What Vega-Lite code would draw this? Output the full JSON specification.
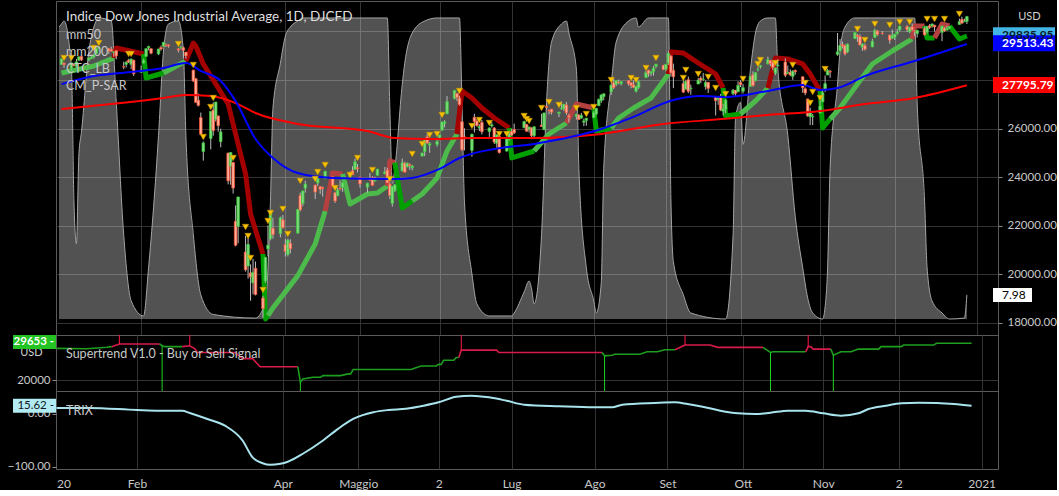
{
"$schema": "https://vega.github.io/schema/vega-lite/v6.json",
"background": "#000000",
"padding": {"left": 5, "right": 0, "top": 0, "bottom": 0},
"spacing": 0,
"bounds": "flush",
"config": {
 "font": "Lato",
 "view": {"stroke": "#5a5a5a"},
 "axis": {"domain": false, "gridColor": "#333333", "labelColor": "#c8c8c8", "labelFont": "Lato", "tickColor": "#8a8a8a", "titleFont": "Lato"},
 "title": {"font": "Lato", "anchor": "start", "frame": "group", "fontWeight": "normal"}
},
"resolve": {"scale": {"color": "independent"}},
"datasets": {
 "candles": [
{"d":"2020-01-02","o":28638,"h":28872,"l":28627,"c":28868},
{"d":"2020-01-03","o":28690,"h":28717,"l":28501,"c":28634},
{"d":"2020-01-06","o":28466,"h":28708,"l":28418,"c":28703},
{"d":"2020-01-07","o":28639,"h":28686,"l":28565,"c":28583},
{"d":"2020-01-08","o":28556,"h":28866,"l":28502,"c":28745},
{"d":"2020-01-09","o":28817,"h":28958,"l":28778,"c":28956},
{"d":"2020-01-10","o":28968,"h":29009,"l":28784,"c":28824},
{"d":"2020-01-13","o":28826,"h":28908,"l":28767,"c":28907},
{"d":"2020-01-14","o":28874,"h":29018,"l":28873,"c":28940},
{"d":"2020-01-15","o":28943,"h":29088,"l":28880,"c":29030},
{"d":"2020-01-16","o":29090,"h":29300,"l":29065,"c":29297},
{"d":"2020-01-17","o":29314,"h":29374,"l":29256,"c":29348},
{"d":"2020-01-21","o":29288,"h":29321,"l":29076,"c":29196},
{"d":"2020-01-22","o":29263,"h":29373,"l":29167,"c":29186},
{"d":"2020-01-23","o":29130,"h":29193,"l":28954,"c":29160},
{"d":"2020-01-24","o":29202,"h":29226,"l":28847,"c":28990},
{"d":"2020-01-27","o":28542,"h":28749,"l":28443,"c":28535},
{"d":"2020-01-28","o":28644,"h":28781,"l":28513,"c":28723},
{"d":"2020-01-29","o":28812,"h":28875,"l":28700,"c":28734},
{"d":"2020-01-30","o":28640,"h":28890,"l":28449,"c":28860},
{"d":"2020-01-31","o":28813,"h":28836,"l":28169,"c":28256},
{"d":"2020-02-03","o":28319,"h":28592,"l":28300,"c":28400},
{"d":"2020-02-04","o":28696,"h":28873,"l":28680,"c":28808},
{"d":"2020-02-05","o":28971,"h":29292,"l":28950,"c":29291},
{"d":"2020-02-06","o":29327,"h":29409,"l":29220,"c":29380},
{"d":"2020-02-07","o":29286,"h":29300,"l":29057,"c":29103},
{"d":"2020-02-10","o":29074,"h":29278,"l":29027,"c":29277},
{"d":"2020-02-11","o":29341,"h":29416,"l":29203,"c":29276},
{"d":"2020-02-12","o":29380,"h":29568,"l":29370,"c":29551},
{"d":"2020-02-13","o":29435,"h":29510,"l":29356,"c":29423},
{"d":"2020-02-14","o":29443,"h":29459,"l":29326,"c":29398},
{"d":"2020-02-18","o":29279,"h":29315,"l":29132,"c":29232},
{"d":"2020-02-19","o":29326,"h":29407,"l":29264,"c":29348},
{"d":"2020-02-20","o":29326,"h":29370,"l":28913,"c":29220},
{"d":"2020-02-21","o":29143,"h":29160,"l":28877,"c":28992},
{"d":"2020-02-24","o":28403,"h":28420,"l":27921,"c":27961},
{"d":"2020-02-25","o":28052,"h":28085,"l":27058,"c":27081},
{"d":"2020-02-26","o":27165,"h":27443,"l":26910,"c":26957},
{"d":"2020-02-27","o":26455,"h":26659,"l":25746,"c":25766},
{"d":"2020-02-28","o":25052,"h":25470,"l":24681,"c":25409},
{"d":"2020-03-02","o":25591,"h":26708,"l":25142,"c":26703},
{"d":"2020-03-03","o":26762,"h":27083,"l":25706,"c":25917},
{"d":"2020-03-04","o":26383,"h":27102,"l":26286,"c":27091},
{"d":"2020-03-05","o":26519,"h":26540,"l":25870,"c":26121},
{"d":"2020-03-06","o":25457,"h":25994,"l":25226,"c":25865},
{"d":"2020-03-09","o":24992,"h":25010,"l":23706,"c":23851},
{"d":"2020-03-10","o":24453,"h":25020,"l":23690,"c":25018},
{"d":"2020-03-11","o":24604,"h":24620,"l":23328,"c":23553},
{"d":"2020-03-12","o":22184,"h":22837,"l":21154,"c":21200},
{"d":"2020-03-13","o":21973,"h":23190,"l":21285,"c":23186},
{"d":"2020-03-16","o":20918,"h":21588,"l":20116,"c":20189},
{"d":"2020-03-17","o":20345,"h":21506,"l":19827,"c":21237},
{"d":"2020-03-18","o":20058,"h":20412,"l":18917,"c":19899},
{"d":"2020-03-19","o":19651,"h":20637,"l":19178,"c":20087},
{"d":"2020-03-20","o":20253,"h":20531,"l":19135,"c":19174},
{"d":"2020-03-23","o":19028,"h":19121,"l":18214,"c":18592},
{"d":"2020-03-24","o":19723,"h":20710,"l":19650,"c":20705},
{"d":"2020-03-25","o":21050,"h":22020,"l":20739,"c":21201},
{"d":"2020-03-26","o":21468,"h":22596,"l":21402,"c":22552},
{"d":"2020-03-27","o":21898,"h":22327,"l":21469,"c":21637},
{"d":"2020-03-30","o":21678,"h":22378,"l":21523,"c":22328},
{"d":"2020-03-31","o":22243,"h":22444,"l":21890,"c":21917},
{"d":"2020-04-01","o":21228,"h":21452,"l":20735,"c":20944},
{"d":"2020-04-02","o":20819,"h":21477,"l":20736,"c":21413},
{"d":"2020-04-03","o":21285,"h":21447,"l":20863,"c":21053},
{"d":"2020-04-06","o":21694,"h":22684,"l":21690,"c":22680},
{"d":"2020-04-07","o":23250,"h":23361,"l":22592,"c":22654},
{"d":"2020-04-08","o":22914,"h":23445,"l":22806,"c":23434},
{"d":"2020-04-09","o":23541,"h":23856,"l":23361,"c":23720},
{"d":"2020-04-13","o":23672,"h":23690,"l":23097,"c":23390},
{"d":"2020-04-14","o":23758,"h":23971,"l":23635,"c":23950},
{"d":"2020-04-15","o":23608,"h":23620,"l":23302,"c":23505},
{"d":"2020-04-16","o":23569,"h":23616,"l":23198,"c":23538},
{"d":"2020-04-17","o":23938,"h":24265,"l":23930,"c":24242},
{"d":"2020-04-20","o":24013,"h":24030,"l":23602,"c":23650},
{"d":"2020-04-21","o":23358,"h":23398,"l":22942,"c":23019},
{"d":"2020-04-22","o":23236,"h":23576,"l":23220,"c":23475},
{"d":"2020-04-23","o":23531,"h":23879,"l":23457,"c":23516},
{"d":"2020-04-24","o":23581,"h":23784,"l":23396,"c":23775},
{"d":"2020-04-27","o":24010,"h":24236,"l":24003,"c":24134},
{"d":"2020-04-28","o":24264,"h":24448,"l":24093,"c":24101},
{"d":"2020-04-29","o":24315,"h":24764,"l":24310,"c":24634},
{"d":"2020-04-30","o":24386,"h":24541,"l":24196,"c":24346},
{"d":"2020-05-01","o":24000,"h":24020,"l":23575,"c":23724},
{"d":"2020-05-04","o":23588,"h":23770,"l":23361,"c":23750},
{"d":"2020-05-05","o":23921,"h":24171,"l":23844,"c":23883},
{"d":"2020-05-06","o":23989,"h":24042,"l":23660,"c":23664},
{"d":"2020-05-07","o":23838,"h":24023,"l":23830,"c":23875},
{"d":"2020-05-08","o":24074,"h":24340,"l":24073,"c":24331},
{"d":"2020-05-11","o":24143,"h":24420,"l":24120,"c":24222},
{"d":"2020-05-12","o":24292,"h":24390,"l":23757,"c":23765},
{"d":"2020-05-13","o":23710,"h":23781,"l":23095,"c":23248},
{"d":"2020-05-14","o":22917,"h":23634,"l":22790,"c":23625},
{"d":"2020-05-15","o":23446,"h":23721,"l":23386,"c":23685},
{"d":"2020-05-18","o":24252,"h":24765,"l":24240,"c":24597},
{"d":"2020-05-19","o":24577,"h":24634,"l":24206,"c":24207},
{"d":"2020-05-20","o":24421,"h":24609,"l":24410,"c":24576},
{"d":"2020-05-21","o":24519,"h":24568,"l":24299,"c":24474},
{"d":"2020-05-22","o":24385,"h":24503,"l":24280,"c":24465},
{"d":"2020-05-26","o":24869,"h":25018,"l":24848,"c":24995},
{"d":"2020-05-27","o":25051,"h":25550,"l":24867,"c":25548},
{"d":"2020-05-28","o":25658,"h":25763,"l":25376,"c":25401},
{"d":"2020-05-29","o":25316,"h":25446,"l":25002,"c":25383},
{"d":"2020-06-01","o":25342,"h":25562,"l":25250,"c":25475},
{"d":"2020-06-02","o":25573,"h":25748,"l":25520,"c":25742},
{"d":"2020-06-03","o":25934,"h":26290,"l":25920,"c":26270},
{"d":"2020-06-04","o":26200,"h":26348,"l":26051,"c":26282},
{"d":"2020-06-05","o":26607,"h":27338,"l":26594,"c":27111},
{"d":"2020-06-08","o":27232,"h":27580,"l":27200,"c":27572},
{"d":"2020-06-09","o":27447,"h":27460,"l":27130,"c":27273},
{"d":"2020-06-10","o":27251,"h":27355,"l":26940,"c":26990},
{"d":"2020-06-11","o":26282,"h":26300,"l":25082,"c":25128},
{"d":"2020-06-12","o":25659,"h":26013,"l":25100,"c":25606},
{"d":"2020-06-15","o":25103,"h":25798,"l":24843,"c":25763},
{"d":"2020-06-16","o":26465,"h":26611,"l":25843,"c":26290},
{"d":"2020-06-17","o":26315,"h":26393,"l":26082,"c":26120},
{"d":"2020-06-18","o":26023,"h":26181,"l":25897,"c":26080},
{"d":"2020-06-19","o":26256,"h":26352,"l":25761,"c":25871},
{"d":"2020-06-22","o":25879,"h":26051,"l":25660,"c":26025},
{"d":"2020-06-23","o":26106,"h":26266,"l":26040,"c":26156},
{"d":"2020-06-24","o":26020,"h":26064,"l":25369,"c":25445},
{"d":"2020-06-25","o":25394,"h":25750,"l":25212,"c":25746},
{"d":"2020-06-26","o":25678,"h":25690,"l":24971,"c":25016},
{"d":"2020-06-29","o":25075,"h":25600,"l":25049,"c":25596},
{"d":"2020-06-30","o":25560,"h":25905,"l":25500,"c":25813},
{"d":"2020-07-01","o":25880,"h":25993,"l":25696,"c":25735},
{"d":"2020-07-02","o":25963,"h":26205,"l":25778,"c":25827},
{"d":"2020-07-06","o":26034,"h":26319,"l":26020,"c":26287},
{"d":"2020-07-07","o":26167,"h":26196,"l":25884,"c":25890},
{"d":"2020-07-08","o":25967,"h":26074,"l":25840,"c":26067},
{"d":"2020-07-09","o":26031,"h":26050,"l":25564,"c":25706},
{"d":"2020-07-10","o":25706,"h":26083,"l":25585,"c":26075},
{"d":"2020-07-13","o":26144,"h":26607,"l":26074,"c":26086},
{"d":"2020-07-14","o":25962,"h":26655,"l":25925,"c":26643},
{"d":"2020-07-15","o":26917,"h":27027,"l":26782,"c":26870},
{"d":"2020-07-16","o":26751,"h":26793,"l":26586,"c":26735},
{"d":"2020-07-17","o":26796,"h":26811,"l":26581,"c":26672},
{"d":"2020-07-20","o":26624,"h":26690,"l":26475,"c":26681},
{"d":"2020-07-21","o":26812,"h":27123,"l":26766,"c":26840},
{"d":"2020-07-22","o":26806,"h":27013,"l":26721,"c":27005},
{"d":"2020-07-23","o":26972,"h":27100,"l":26561,"c":26652},
{"d":"2020-07-24","o":26529,"h":26598,"l":26256,"c":26470},
{"d":"2020-07-27","o":26503,"h":26620,"l":26372,"c":26585},
{"d":"2020-07-28","o":26563,"h":26580,"l":26361,"c":26379},
{"d":"2020-07-29","o":26429,"h":26645,"l":26420,"c":26540},
{"d":"2020-07-30","o":26262,"h":26408,"l":26104,"c":26314},
{"d":"2020-07-31","o":26336,"h":26432,"l":26118,"c":26428},
{"d":"2020-08-03","o":26449,"h":26720,"l":26440,"c":26664},
{"d":"2020-08-04","o":26595,"h":26848,"l":26546,"c":26828},
{"d":"2020-08-05","o":26941,"h":27237,"l":26930,"c":27202},
{"d":"2020-08-06","o":27149,"h":27404,"l":27058,"c":27387},
{"d":"2020-08-07","o":27316,"h":27440,"l":27165,"c":27433},
{"d":"2020-08-10","o":27509,"h":27795,"l":27382,"c":27791},
{"d":"2020-08-11","o":27895,"h":28068,"l":27623,"c":27687},
{"d":"2020-08-12","o":27821,"h":27985,"l":27752,"c":27977},
{"d":"2020-08-13","o":27922,"h":28014,"l":27827,"c":27897},
{"d":"2020-08-14","o":27845,"h":27942,"l":27775,"c":27931},
{"d":"2020-08-17","o":27971,"h":27994,"l":27767,"c":27845},
{"d":"2020-08-18","o":27887,"h":27891,"l":27658,"c":27779},
{"d":"2020-08-19","o":27799,"h":27974,"l":27666,"c":27693},
{"d":"2020-08-20","o":27535,"h":27761,"l":27486,"c":27740},
{"d":"2020-08-21","o":27686,"h":27977,"l":27631,"c":27930},
{"d":"2020-08-24","o":28100,"h":28364,"l":28093,"c":28308},
{"d":"2020-08-25","o":28402,"h":28420,"l":28135,"c":28249},
{"d":"2020-08-26","o":28272,"h":28380,"l":28158,"c":28332},
{"d":"2020-08-27","o":28342,"h":28574,"l":28176,"c":28493},
{"d":"2020-08-28","o":28560,"h":28659,"l":28486,"c":28654},
{"d":"2020-08-31","o":28606,"h":28620,"l":28405,"c":28430},
{"d":"2020-09-01","o":28439,"h":28659,"l":28358,"c":28646},
{"d":"2020-09-02","o":28689,"h":29199,"l":28619,"c":29101},
{"d":"2020-09-03","o":28987,"h":29016,"l":28137,"c":28293},
{"d":"2020-09-04","o":28400,"h":28674,"l":27665,"c":28133},
{"d":"2020-09-08","o":27850,"h":27968,"l":27463,"c":27501},
{"d":"2020-09-09","o":27620,"h":28014,"l":27611,"c":27940},
{"d":"2020-09-10","o":28010,"h":28141,"l":27462,"c":27535},
{"d":"2020-09-11","o":27638,"h":27807,"l":27393,"c":27666},
{"d":"2020-09-14","o":27835,"h":28079,"l":27830,"c":27993},
{"d":"2020-09-15","o":28074,"h":28152,"l":27869,"c":27996},
{"d":"2020-09-16","o":28024,"h":28282,"l":27967,"c":28032},
{"d":"2020-09-17","o":27732,"h":27985,"l":27600,"c":27902},
{"d":"2020-09-18","o":27902,"h":27914,"l":27465,"c":27657},
{"d":"2020-09-21","o":27314,"h":27330,"l":26538,"c":27148},
{"d":"2020-09-22","o":27194,"h":27336,"l":26979,"c":27288},
{"d":"2020-09-23","o":27303,"h":27426,"l":26720,"c":26763},
{"d":"2020-09-24","o":26716,"h":27017,"l":26537,"c":26815},
{"d":"2020-09-25","o":26787,"h":27211,"l":26630,"c":27174},
{"d":"2020-09-28","o":27435,"h":27627,"l":27376,"c":27584},
{"d":"2020-09-29","o":27573,"h":27590,"l":27338,"c":27452},
{"d":"2020-09-30","o":27513,"h":27944,"l":27500,"c":27782},
{"d":"2020-10-01","o":27897,"h":27990,"l":27709,"c":27817},
{"d":"2020-10-02","o":27536,"h":27831,"l":27446,"c":27683},
{"d":"2020-10-05","o":27735,"h":28164,"l":27730,"c":28149},
{"d":"2020-10-06","o":28214,"h":28354,"l":27724,"c":27773},
{"d":"2020-10-07","o":27969,"h":28310,"l":27935,"c":28303},
{"d":"2020-10-08","o":28423,"h":28526,"l":28354,"c":28426},
{"d":"2020-10-09","o":28537,"h":28624,"l":28471,"c":28587},
{"d":"2020-10-12","o":28665,"h":28958,"l":28639,"c":28838},
{"d":"2020-10-13","o":28800,"h":28820,"l":28568,"c":28680},
{"d":"2020-10-14","o":28727,"h":28800,"l":28402,"c":28514},
{"d":"2020-10-15","o":28283,"h":28509,"l":28198,"c":28494},
{"d":"2020-10-16","o":28579,"h":28853,"l":28570,"c":28606},
{"d":"2020-10-19","o":28740,"h":28890,"l":28117,"c":28195},
{"d":"2020-10-20","o":28265,"h":28591,"l":28242,"c":28309},
{"d":"2020-10-21","o":28317,"h":28439,"l":28157,"c":28211},
{"d":"2020-10-22","o":28147,"h":28402,"l":28006,"c":28364},
{"d":"2020-10-23","o":28393,"h":28431,"l":28214,"c":28336},
{"d":"2020-10-26","o":28132,"h":28143,"l":27475,"c":27685},
{"d":"2020-10-27","o":27639,"h":27696,"l":27375,"c":27463},
{"d":"2020-10-28","o":27218,"h":27230,"l":26487,"c":26520},
{"d":"2020-10-29","o":26485,"h":26856,"l":26144,"c":26660},
{"d":"2020-10-30","o":26483,"h":26599,"l":26143,"c":26502},
{"d":"2020-11-02","o":26636,"h":27146,"l":26630,"c":26925},
{"d":"2020-11-03","o":27096,"h":27639,"l":27090,"c":27481},
{"d":"2020-11-04","o":27606,"h":28180,"l":27506,"c":27848},
{"d":"2020-11-05","o":28206,"h":28462,"l":28200,"c":28391},
{"d":"2020-11-06","o":28354,"h":28419,"l":28088,"c":28324},
{"d":"2020-11-09","o":29047,"h":29934,"l":28998,"c":29158},
{"d":"2020-11-10","o":29197,"h":29680,"l":29184,"c":29421},
{"d":"2020-11-11","o":29458,"h":29571,"l":29293,"c":29398},
{"d":"2020-11-12","o":29423,"h":29458,"l":29007,"c":29080},
{"d":"2020-11-13","o":29150,"h":29500,"l":29116,"c":29480},
{"d":"2020-11-16","o":29700,"h":29965,"l":29690,"c":29950},
{"d":"2020-11-17","o":29837,"h":29899,"l":29571,"c":29784},
{"d":"2020-11-18","o":29791,"h":29883,"l":29425,"c":29438},
{"d":"2020-11-19","o":29348,"h":29504,"l":29198,"c":29483},
{"d":"2020-11-20","o":29415,"h":29495,"l":29212,"c":29263},
{"d":"2020-11-23","o":29360,"h":29691,"l":29345,"c":29591},
{"d":"2020-11-24","o":29746,"h":30117,"l":29740,"c":30046},
{"d":"2020-11-25","o":30021,"h":30061,"l":29811,"c":29873},
{"d":"2020-11-27","o":29925,"h":30015,"l":29862,"c":29910},
{"d":"2020-11-30","o":29849,"h":29870,"l":29490,"c":29639},
{"d":"2020-12-01","o":29720,"h":30082,"l":29700,"c":29824},
{"d":"2020-12-02","o":29750,"h":29893,"l":29648,"c":29884},
{"d":"2020-12-03","o":29913,"h":30104,"l":29855,"c":29970},
{"d":"2020-12-04","o":30057,"h":30225,"l":29993,"c":30218},
{"d":"2020-12-07","o":30196,"h":30256,"l":29976,"c":30070},
{"d":"2020-12-08","o":29984,"h":30181,"l":29923,"c":30174},
{"d":"2020-12-09","o":30182,"h":30319,"l":30010,"c":30069},
{"d":"2020-12-10","o":30005,"h":30055,"l":29815,"c":29999},
{"d":"2020-12-11","o":29905,"h":30062,"l":29744,"c":30046},
{"d":"2020-12-14","o":30102,"h":30200,"l":29824,"c":29861},
{"d":"2020-12-15","o":29963,"h":30222,"l":29914,"c":30200},
{"d":"2020-12-16","o":30229,"h":30296,"l":30100,"c":30155},
{"d":"2020-12-17","o":30216,"h":30326,"l":30156,"c":30304},
{"d":"2020-12-18","o":30251,"h":30272,"l":29991,"c":30180},
{"d":"2020-12-21","o":29960,"h":30237,"l":29600,"c":30217},
{"d":"2020-12-22","o":30145,"h":30178,"l":29985,"c":30016},
{"d":"2020-12-23","o":30051,"h":30234,"l":30043,"c":30129},
{"d":"2020-12-24","o":30133,"h":30220,"l":30107,"c":30200},
{"d":"2020-12-28","o":30283,"h":30526,"l":30280,"c":30404},
{"d":"2020-12-29","o":30493,"h":30603,"l":30331,"c":30336},
{"d":"2020-12-30","o":30393,"h":30525,"l":30390,"c":30410},
{"d":"2020-12-31","o":30411,"h":30637,"l":30303,"c":30606}
 ],
 "osc": [
{"d":"2020-01-01","v":97},{"d":"2020-01-02","v":98},{"d":"2020-01-03","v":99},{"d":"2020-01-06","v":83},{"d":"2020-01-07","v":39},{"d":"2020-01-08","v":25},{"d":"2020-01-09","v":55},{"d":"2020-01-10","v":62},{"d":"2020-01-13","v":89},{"d":"2020-01-15","v":97},{"d":"2020-01-17","v":100},{"d":"2020-01-22","v":99},{"d":"2020-01-24","v":72},{"d":"2020-01-27","v":28},{"d":"2020-01-30","v":6},{"d":"2020-02-04","v":1},{"d":"2020-02-06","v":17},{"d":"2020-02-10","v":61},{"d":"2020-02-12","v":89},{"d":"2020-02-14","v":98},{"d":"2020-02-18","v":99},{"d":"2020-02-20","v":89},{"d":"2020-02-21","v":61},{"d":"2020-02-24","v":28},{"d":"2020-02-27","v":8},{"d":"2020-03-03","v":1.5},{"d":"2020-03-20","v":0.3},{"d":"2020-03-24","v":6},{"d":"2020-03-26","v":39},{"d":"2020-03-27","v":70},{"d":"2020-03-30","v":85},{"d":"2020-04-01","v":94},{"d":"2020-04-03","v":97},{"d":"2020-04-06","v":99},{"d":"2020-04-08","v":100},{"d":"2020-05-12","v":100},{"d":"2020-05-13","v":70},{"d":"2020-05-14","v":45},{"d":"2020-05-15","v":50},{"d":"2020-05-18","v":78},{"d":"2020-05-19","v":85},{"d":"2020-05-22","v":95},{"d":"2020-05-27","v":99},{"d":"2020-06-01","v":100},{"d":"2020-06-10","v":100},{"d":"2020-06-11","v":72},{"d":"2020-06-12","v":39},{"d":"2020-06-15","v":15},{"d":"2020-06-17","v":5},{"d":"2020-06-22","v":1},{"d":"2020-07-01","v":1},{"d":"2020-07-02","v":2},{"d":"2020-07-06","v":9},{"d":"2020-07-08","v":12.6},{"d":"2020-07-09","v":10},{"d":"2020-07-10","v":5},{"d":"2020-07-13","v":28},{"d":"2020-07-15","v":72},{"d":"2020-07-17","v":92},{"d":"2020-07-21","v":98},{"d":"2020-07-23","v":99},{"d":"2020-07-24","v":95},{"d":"2020-07-27","v":83},{"d":"2020-07-28","v":50},{"d":"2020-07-31","v":17},{"d":"2020-08-03","v":6},{"d":"2020-08-04","v":2},{"d":"2020-08-06","v":12},{"d":"2020-08-07","v":50},{"d":"2020-08-10","v":78},{"d":"2020-08-12","v":92},{"d":"2020-08-17","v":99},{"d":"2020-08-20","v":100},{"d":"2020-08-21","v":97},{"d":"2020-08-25","v":100},{"d":"2020-09-02","v":100},{"d":"2020-09-03","v":40},{"d":"2020-09-04","v":19},{"d":"2020-09-08","v":8},{"d":"2020-09-11","v":2},{"d":"2020-09-25","v":0},{"d":"2020-09-28","v":28},{"d":"2020-09-29","v":67},{"d":"2020-10-01","v":72},{"d":"2020-10-02","v":58},{"d":"2020-10-05","v":83},{"d":"2020-10-07","v":95},{"d":"2020-10-09","v":99},{"d":"2020-10-12","v":100},{"d":"2020-10-15","v":100},{"d":"2020-10-16","v":83},{"d":"2020-10-20","v":61},{"d":"2020-10-23","v":34},{"d":"2020-10-26","v":17},{"d":"2020-10-28","v":7},{"d":"2020-10-30","v":2},{"d":"2020-11-03","v":0},{"d":"2020-11-04","v":4},{"d":"2020-11-05","v":17},{"d":"2020-11-06","v":50},{"d":"2020-11-09","v":78},{"d":"2020-11-10","v":89},{"d":"2020-11-12","v":97},{"d":"2020-11-16","v":100},{"d":"2020-12-10","v":100},{"d":"2020-12-11","v":72},{"d":"2020-12-14","v":39},{"d":"2020-12-15","v":17},{"d":"2020-12-17","v":6},{"d":"2020-12-21","v":2},{"d":"2020-12-24","v":0},{"d":"2020-12-30","v":0.3},{"d":"2020-12-31","v":7.98}
 ],
 "ma200": [
{"d":"2020-01-02","v":26800},{"d":"2020-01-22","v":27010},{"d":"2020-02-12","v":27260},{"d":"2020-02-21","v":27380},{"d":"2020-03-02","v":27340},{"d":"2020-03-12","v":27050},{"d":"2020-03-20","v":26640},{"d":"2020-04-06","v":26190},{"d":"2020-05-04","v":25900},{"d":"2020-05-15","v":25610},{"d":"2020-05-29","v":25570},{"d":"2020-06-17","v":25610},{"d":"2020-07-10","v":25610},{"d":"2020-08-06","v":25780},{"d":"2020-08-31","v":26190},{"d":"2020-09-25","v":26400},{"d":"2020-10-12","v":26560},{"d":"2020-11-02","v":26720},{"d":"2020-11-20","v":27010},{"d":"2020-12-10","v":27260},{"d":"2020-12-31","v":27780}
 ],
 "ma50": [
{"d":"2020-01-02","v":27830},{"d":"2020-01-15","v":28160},{"d":"2020-01-30","v":28330},{"d":"2020-02-12","v":28490},{"d":"2020-02-21","v":28700},{"d":"2020-02-27","v":28370},{"d":"2020-03-06","v":27960},{"d":"2020-03-12","v":27130},{"d":"2020-03-20","v":25570},{"d":"2020-03-27","v":24790},{"d":"2020-04-06","v":24170},{"d":"2020-04-20","v":23970},{"d":"2020-05-15","v":23930},{"d":"2020-05-22","v":23970},{"d":"2020-06-02","v":24340},{"d":"2020-06-10","v":24790},{"d":"2020-06-24","v":25160},{"d":"2020-07-10","v":25370},{"d":"2020-08-06","v":25980},{"d":"2020-08-18","v":26440},{"d":"2020-09-04","v":27180},{"d":"2020-09-15","v":27340},{"d":"2020-09-25","v":27300},{"d":"2020-10-12","v":27550},{"d":"2020-10-26","v":27790},{"d":"2020-11-02","v":27590},{"d":"2020-11-09","v":27670},{"d":"2020-11-20","v":28160},{"d":"2020-12-10","v":28780},{"d":"2020-12-31","v":29480}
 ],
 "trail": [
{"d":"2020-01-02","v":28288,"s":1,"k":"lg"},{"d":"2020-01-15","v":28576,"s":1,"k":"lg"},{"d":"2020-01-23","v":28905,"s":1,"k":"lg"},
{"d":"2020-01-23","v":28905,"s":2,"k":"dr"},{"d":"2020-01-24","v":29316,"s":2,"k":"dr"},{"d":"2020-02-04","v":29069,"s":2,"k":"dr"},
{"d":"2020-02-04","v":29069,"s":3,"k":"bg"},{"d":"2020-02-05","v":28082,"s":3,"k":"bg"},{"d":"2020-02-12","v":28288,"s":3,"k":"bg"},
{"d":"2020-02-12","v":28288,"s":4,"k":"lg"},{"d":"2020-02-21","v":28781,"s":4,"k":"lg"},
{"d":"2020-02-21","v":28781,"s":5,"k":"dr"},{"d":"2020-02-24","v":29522,"s":5,"k":"dr"},{"d":"2020-02-25","v":29399,"s":5,"k":"dr"},{"d":"2020-02-28","v":28658,"s":5,"k":"dr"},{"d":"2020-03-04","v":27835,"s":5,"k":"dr"},{"d":"2020-03-09","v":27012,"s":5,"k":"dr"},{"d":"2020-03-12","v":25777,"s":5,"k":"dr"},{"d":"2020-03-16","v":24131,"s":5,"k":"dr"},{"d":"2020-03-18","v":22485,"s":5,"k":"dr"},{"d":"2020-03-23","v":20839,"s":5,"k":"dr"},
{"d":"2020-03-23","v":20839,"s":6,"k":"bg"},{"d":"2020-03-24","v":18165,"s":6,"k":"bg"},{"d":"2020-03-25","v":18300,"s":6,"k":"bg"},
{"d":"2020-03-25","v":18300,"s":7,"k":"lg"},{"d":"2020-03-27","v":18617,"s":7,"k":"lg"},{"d":"2020-04-06","v":19950,"s":7,"k":"lg"},{"d":"2020-04-13","v":21251,"s":7,"k":"lg"},{"d":"2020-04-17","v":22609,"s":7,"k":"lg"},
{"d":"2020-04-17","v":22609,"s":8,"k":"mr"},{"d":"2020-04-20","v":24173,"s":8,"k":"mr"},{"d":"2020-04-24","v":24131,"s":8,"k":"mr"},
{"d":"2020-04-24","v":24131,"s":9,"k":"lg"},{"d":"2020-04-27","v":22897,"s":9,"k":"lg"},{"d":"2020-05-04","v":23308,"s":9,"k":"lg"},{"d":"2020-05-08","v":23350,"s":9,"k":"lg"},{"d":"2020-05-12","v":23638,"s":9,"k":"lg"},
{"d":"2020-05-12","v":23638,"s":10,"k":"mr"},{"d":"2020-05-13","v":24666,"s":10,"k":"mr"},{"d":"2020-05-15","v":24600,"s":10,"k":"mr"},
{"d":"2020-05-15","v":24600,"s":11,"k":"bg"},{"d":"2020-05-18","v":22732,"s":11,"k":"bg"},{"d":"2020-05-22","v":23020,"s":11,"k":"bg"},
{"d":"2020-05-22","v":23020,"s":12,"k":"lg"},{"d":"2020-05-26","v":23308,"s":12,"k":"lg"},{"d":"2020-06-01","v":23967,"s":12,"k":"lg"},{"d":"2020-06-05","v":25078,"s":12,"k":"lg"},{"d":"2020-06-09","v":25777,"s":12,"k":"lg"},
{"d":"2020-06-09","v":25777,"s":13,"k":"dr"},{"d":"2020-06-11","v":27547,"s":13,"k":"dr"},{"d":"2020-06-15","v":27259,"s":13,"k":"dr"},{"d":"2020-06-19","v":26847,"s":13,"k":"dr"},{"d":"2020-06-24","v":26436,"s":13,"k":"dr"},{"d":"2020-06-30","v":26024,"s":13,"k":"dr"},
{"d":"2020-06-30","v":26024,"s":14,"k":"bg"},{"d":"2020-07-01","v":24790,"s":14,"k":"bg"},{"d":"2020-07-10","v":25078,"s":14,"k":"bg"},
{"d":"2020-07-10","v":25078,"s":15,"k":"lg"},{"d":"2020-07-16","v":25777,"s":15,"k":"lg"},{"d":"2020-07-23","v":26230,"s":15,"k":"lg"},
{"d":"2020-07-23","v":26230,"s":16,"k":"mr"},{"d":"2020-07-27","v":27012,"s":16,"k":"mr"},{"d":"2020-08-03","v":26847,"s":16,"k":"mr"},
{"d":"2020-08-03","v":26847,"s":17,"k":"bg"},{"d":"2020-08-04","v":25901,"s":17,"k":"bg"},{"d":"2020-08-10","v":26024,"s":17,"k":"bg"},
{"d":"2020-08-10","v":26024,"s":18,"k":"lg"},{"d":"2020-08-13","v":26436,"s":18,"k":"lg"},{"d":"2020-08-19","v":26847,"s":18,"k":"lg"},{"d":"2020-08-26","v":27259,"s":18,"k":"lg"},{"d":"2020-08-31","v":27958,"s":18,"k":"lg"},{"d":"2020-09-02","v":28246,"s":18,"k":"lg"},
{"d":"2020-09-02","v":28246,"s":19,"k":"dr"},{"d":"2020-09-03","v":29152,"s":19,"k":"dr"},{"d":"2020-09-08","v":29111,"s":19,"k":"dr"},{"d":"2020-09-14","v":28699,"s":19,"k":"dr"},{"d":"2020-09-21","v":28246,"s":19,"k":"dr"},{"d":"2020-09-24","v":27670,"s":19,"k":"dr"},
{"d":"2020-09-24","v":27670,"s":20,"k":"bg"},{"d":"2020-09-25","v":26518,"s":20,"k":"bg"},{"d":"2020-10-01","v":26600,"s":20,"k":"bg"},
{"d":"2020-10-01","v":26600,"s":21,"k":"lg"},{"d":"2020-10-07","v":27135,"s":21,"k":"lg"},{"d":"2020-10-12","v":27670,"s":21,"k":"lg"},
{"d":"2020-10-12","v":27670,"s":22,"k":"dr"},{"d":"2020-10-15","v":28905,"s":22,"k":"dr"},{"d":"2020-10-20","v":28864,"s":22,"k":"dr"},{"d":"2020-10-26","v":28658,"s":22,"k":"dr"},{"d":"2020-10-29","v":28246,"s":22,"k":"dr"},{"d":"2020-11-02","v":27547,"s":22,"k":"dr"},
{"d":"2020-11-02","v":27547,"s":23,"k":"bg"},{"d":"2020-11-03","v":26024,"s":23,"k":"bg"},{"d":"2020-11-06","v":26395,"s":23,"k":"bg"},
{"d":"2020-11-06","v":26395,"s":24,"k":"lg"},{"d":"2020-11-10","v":26847,"s":24,"k":"lg"},{"d":"2020-11-17","v":27835,"s":24,"k":"lg"},{"d":"2020-11-23","v":28658,"s":24,"k":"lg"},{"d":"2020-12-01","v":29193,"s":24,"k":"lg"},{"d":"2020-12-09","v":29687,"s":24,"k":"lg"},
{"d":"2020-12-09","v":29687,"s":25,"k":"mr"},{"d":"2020-12-10","v":30222,"s":25,"k":"mr"},{"d":"2020-12-14","v":30222,"s":25,"k":"mr"},
{"d":"2020-12-14","v":30222,"s":26,"k":"bg"},{"d":"2020-12-15","v":29728,"s":26,"k":"bg"},{"d":"2020-12-18","v":29728,"s":26,"k":"bg"},
{"d":"2020-12-18","v":29728,"s":27,"k":"mr"},{"d":"2020-12-21","v":30304,"s":27,"k":"mr"},{"d":"2020-12-24","v":30222,"s":27,"k":"mr"},
{"d":"2020-12-24","v":30222,"s":28,"k":"bg"},{"d":"2020-12-28","v":29687,"s":28,"k":"bg"},{"d":"2020-12-31","v":29810,"s":28,"k":"bg"}
 ],
 "tri": [
{"d":"2020-01-03","v":28905},{"d":"2020-01-06","v":28905},{"d":"2020-01-15","v":29316},{"d":"2020-01-17","v":29522},{"d":"2020-01-29","v":29069},{"d":"2020-01-30","v":29069},{"d":"2020-02-18","v":29481},{"d":"2020-02-24","v":28617},{"d":"2020-02-28","v":25654},{"d":"2020-03-02","v":26888},{"d":"2020-03-03","v":27259},{"d":"2020-03-11","v":24790},{"d":"2020-03-16","v":21950},{"d":"2020-03-17","v":21580},{"d":"2020-03-18","v":20675},{"d":"2020-03-23","v":19358},{"d":"2020-03-25","v":22197},{"d":"2020-03-26","v":22527},{"d":"2020-03-31","v":22691},{"d":"2020-04-02","v":21662},{"d":"2020-04-07","v":23843},{"d":"2020-04-13","v":23926},{"d":"2020-04-14","v":24214},{"d":"2020-04-17","v":24502},{"d":"2020-04-21","v":23555},{"d":"2020-04-27","v":24090},{"d":"2020-04-30","v":24790},{"d":"2020-05-06","v":24296},{"d":"2020-05-13","v":23926},{"d":"2020-05-22","v":24954},{"d":"2020-05-26","v":25366},{"d":"2020-05-29","v":25736},{"d":"2020-06-01","v":25777},{"d":"2020-06-03","v":26559},{"d":"2020-06-10","v":27547},{"d":"2020-06-15","v":26107},{"d":"2020-06-18","v":26353},{"d":"2020-06-22","v":26230},{"d":"2020-06-26","v":25777},{"d":"2020-06-29","v":25777},{"d":"2020-07-06","v":26518},{"d":"2020-07-07","v":26395},{"d":"2020-07-08","v":26312},{"d":"2020-07-13","v":26847},{"d":"2020-07-16","v":27094},{"d":"2020-07-20","v":26971},{"d":"2020-07-27","v":26847},{"d":"2020-07-31","v":26600},{"d":"2020-08-03","v":26888},{"d":"2020-08-10","v":28000},{"d":"2020-08-18","v":28082},{"d":"2020-08-20","v":28000},{"d":"2020-08-24","v":28493},{"d":"2020-08-28","v":28905},{"d":"2020-09-08","v":28082},{"d":"2020-09-09","v":28411},{"d":"2020-09-14","v":28246},{"d":"2020-09-18","v":28123},{"d":"2020-09-21","v":27670},{"d":"2020-09-25","v":27423},{"d":"2020-10-02","v":28041},{"d":"2020-10-08","v":28658},{"d":"2020-10-09","v":28823},{"d":"2020-10-15","v":28699},{"d":"2020-10-22","v":28617},{"d":"2020-10-27","v":27876},{"d":"2020-10-29","v":27053},{"d":"2020-10-30","v":27506},{"d":"2020-11-02","v":27259},{"d":"2020-11-04","v":28452},{"d":"2020-11-17","v":30098},{"d":"2020-11-20","v":29645},{"d":"2020-11-24","v":30304},{"d":"2020-11-30","v":30263},{"d":"2020-12-04","v":30386},{"d":"2020-12-08","v":30386},{"d":"2020-12-15","v":30510},{"d":"2020-12-18","v":30510},{"d":"2020-12-22","v":30510},{"d":"2020-12-28","v":30715}
 ],
 "st": [
{"d":"2020-01-02","v":28030,"s":1,"k":"g"},{"d":"2020-01-14","v":27950,"s":1,"k":"g"},{"d":"2020-01-22","v":28300,"s":1,"k":"g"},{"d":"2020-01-24","v":28470,"s":1,"k":"g"},
{"d":"2020-01-24","v":28470,"s":2,"k":"r"},{"d":"2020-01-27","v":29140,"s":2,"k":"r"},{"d":"2020-02-12","v":29140,"s":2,"k":"r"},
{"d":"2020-02-12","v":29140,"s":3,"k":"g"},{"d":"2020-02-13","v":28730,"s":3,"k":"g"},{"d":"2020-02-14","v":28470,"s":3,"k":"g"},{"d":"2020-02-21","v":28470,"s":3,"k":"g"},
{"d":"2020-02-21","v":28470,"s":4,"k":"r"},{"d":"2020-02-24","v":28700,"s":4,"k":"r"},{"d":"2020-02-25","v":28300,"s":4,"k":"r"},{"d":"2020-02-26","v":28000,"s":4,"k":"r"},{"d":"2020-02-27","v":26990,"s":4,"k":"r"},{"d":"2020-03-13","v":26990,"s":4,"k":"r"},{"d":"2020-03-16","v":25440,"s":4,"k":"r"},{"d":"2020-03-20","v":25440,"s":4,"k":"r"},{"d":"2020-03-23","v":23370,"s":4,"k":"r"},{"d":"2020-04-07","v":23370,"s":4,"k":"r"},
{"d":"2020-04-07","v":23370,"s":5,"k":"g"},{"d":"2020-04-08","v":19480,"s":5,"k":"g"},{"d":"2020-04-09","v":20260,"s":5,"k":"g"},{"d":"2020-04-13","v":20700,"s":5,"k":"g"},{"d":"2020-04-16","v":20700,"s":5,"k":"g"},{"d":"2020-04-17","v":21110,"s":5,"k":"g"},{"d":"2020-04-24","v":21110,"s":5,"k":"g"},{"d":"2020-04-27","v":21550,"s":5,"k":"g"},{"d":"2020-04-28","v":21550,"s":5,"k":"g"},{"d":"2020-04-29","v":22670,"s":5,"k":"g"},{"d":"2020-05-22","v":22670,"s":5,"k":"g"},{"d":"2020-05-26","v":23550,"s":5,"k":"g"},{"d":"2020-06-01","v":23550,"s":5,"k":"g"},{"d":"2020-06-02","v":23960,"s":5,"k":"g"},{"d":"2020-06-03","v":23960,"s":5,"k":"g"},{"d":"2020-06-04","v":25000,"s":5,"k":"g"},{"d":"2020-06-08","v":25000,"s":5,"k":"g"},{"d":"2020-06-09","v":25700,"s":5,"k":"g"},{"d":"2020-06-10","v":25700,"s":5,"k":"g"},
{"d":"2020-06-10","v":25700,"s":6,"k":"r"},{"d":"2020-06-11","v":27590,"s":6,"k":"r"},{"d":"2020-06-25","v":27590,"s":6,"k":"r"},{"d":"2020-06-26","v":26990,"s":6,"k":"r"},{"d":"2020-08-06","v":26990,"s":6,"k":"r"},
{"d":"2020-08-06","v":26990,"s":7,"k":"g"},{"d":"2020-08-07","v":26140,"s":7,"k":"g"},{"d":"2020-08-10","v":26300,"s":7,"k":"g"},{"d":"2020-08-11","v":26550,"s":7,"k":"g"},{"d":"2020-08-21","v":26550,"s":7,"k":"g"},{"d":"2020-08-24","v":27170,"s":7,"k":"g"},{"d":"2020-08-28","v":27170,"s":7,"k":"g"},{"d":"2020-08-31","v":27690,"s":7,"k":"g"},{"d":"2020-09-04","v":27690,"s":7,"k":"g"},
{"d":"2020-09-04","v":27690,"s":8,"k":"r"},{"d":"2020-09-08","v":28880,"s":8,"k":"r"},{"d":"2020-09-18","v":28880,"s":8,"k":"r"},{"d":"2020-09-21","v":28290,"s":8,"k":"r"},{"d":"2020-10-09","v":28290,"s":8,"k":"r"},
{"d":"2020-10-09","v":28290,"s":9,"k":"g"},{"d":"2020-10-12","v":27000,"s":9,"k":"g"},{"d":"2020-10-13","v":27170,"s":9,"k":"g"},{"d":"2020-10-26","v":27170,"s":9,"k":"g"},
{"d":"2020-10-26","v":27170,"s":10,"k":"r"},{"d":"2020-10-27","v":28470,"s":10,"k":"r"},{"d":"2020-10-28","v":28470,"s":10,"k":"r"},{"d":"2020-10-29","v":27850,"s":10,"k":"r"},{"d":"2020-11-05","v":27850,"s":10,"k":"r"},
{"d":"2020-11-05","v":27850,"s":11,"k":"g"},{"d":"2020-11-06","v":26300,"s":11,"k":"g"},{"d":"2020-11-09","v":27170,"s":11,"k":"g"},{"d":"2020-11-13","v":27170,"s":11,"k":"g"},{"d":"2020-11-16","v":27850,"s":11,"k":"g"},{"d":"2020-11-24","v":27850,"s":11,"k":"g"},{"d":"2020-11-25","v":28470,"s":11,"k":"g"},{"d":"2020-12-03","v":28470,"s":11,"k":"g"},{"d":"2020-12-04","v":28880,"s":11,"k":"g"},{"d":"2020-12-16","v":28880,"s":11,"k":"g"},{"d":"2020-12-17","v":29320,"s":11,"k":"g"},{"d":"2020-12-31","v":29320,"s":11,"k":"g"}
 ],
 "sts": [
{"d":"2020-01-27","v":29140,"e":31431,"k":"sr"},{"d":"2020-02-24","v":28700,"e":31431,"k":"sr"},{"d":"2020-06-11","v":27590,"e":31431,"k":"sr"},{"d":"2020-09-08","v":28880,"e":31431,"k":"sr"},{"d":"2020-10-27","v":28470,"e":31431,"k":"sr"},
{"d":"2020-02-13","v":28730,"e":17206,"k":"sg"},{"d":"2020-04-08","v":19480,"e":17206,"k":"sg"},{"d":"2020-08-07","v":26140,"e":17206,"k":"sg"},{"d":"2020-10-12","v":27000,"e":17206,"k":"sg"},{"d":"2020-11-06","v":26300,"e":17206,"k":"sg"}
 ],
 "trix": [
{"d":"2020-01-02","v":11.3},{"d":"2020-01-15","v":11.5},{"d":"2020-02-03","v":7.5},{"d":"2020-02-12","v":6.3},{"d":"2020-02-21","v":6.3},{"d":"2020-02-24","v":1.9},{"d":"2020-03-02","v":-9.4},{"d":"2020-03-09","v":-22},{"d":"2020-03-16","v":-50},{"d":"2020-03-20","v":-82},{"d":"2020-03-24","v":-93},{"d":"2020-03-27","v":-96},{"d":"2020-03-31","v":-94},{"d":"2020-04-03","v":-90},{"d":"2020-04-09","v":-75},{"d":"2020-04-17","v":-50},{"d":"2020-04-23","v":-28},{"d":"2020-04-29","v":-9.4},{"d":"2020-05-07","v":3.2},{"d":"2020-05-13","v":7.5},{"d":"2020-05-20","v":10},{"d":"2020-05-27","v":15.7},{"d":"2020-06-02","v":22},{"d":"2020-06-09","v":32.7},{"d":"2020-06-15","v":34.5},{"d":"2020-06-22","v":31.4},{"d":"2020-06-29","v":25},{"d":"2020-07-06","v":17.5},{"d":"2020-07-20","v":14.5},{"d":"2020-08-03","v":12.6},{"d":"2020-08-10","v":12.6},{"d":"2020-08-14","v":17.5},{"d":"2020-08-27","v":20.8},{"d":"2020-09-04","v":22},{"d":"2020-09-09","v":18.9},{"d":"2020-09-15","v":13.8},{"d":"2020-09-22","v":6.3},{"d":"2020-09-29","v":1.3},{"d":"2020-10-06","v":0},{"d":"2020-10-12","v":2.5},{"d":"2020-10-19","v":6.3},{"d":"2020-10-26","v":6.3},{"d":"2020-11-02","v":1.3},{"d":"2020-11-09","v":-3.1},{"d":"2020-11-16","v":1.3},{"d":"2020-11-20","v":9.4},{"d":"2020-11-27","v":15.7},{"d":"2020-12-03","v":20.1},{"d":"2020-12-10","v":21.4},{"d":"2020-12-17","v":20.8},{"d":"2020-12-24","v":18.9},{"d":"2020-12-31","v":15.62}
 ]
},
"vconcat": [
 {
  "width": 942, "height": 334,
  "title": {"text": "Indice Dow Jones Industrial Average, 1D, DJCFD", "subtitle": ["mm50", "mm200", "CTC_LB", "CM_P-SAR"], "offset": -91, "dx": 10, "fontSize": 13.5, "color": "#dedede", "subtitleFontSize": 12.5, "subtitleColor": "#c8c8c8", "subtitleLineHeight": 17, "subtitlePadding": 5, "subtitleFont": "Lato"},
  "encoding": {"x": {"field": "d", "type": "temporal",
    "scale": {"type": "utc", "nice": false, "domain": [{"year": 2020, "month": 1, "date": 1, "hours": 19, "utc": true}, {"year": 2021, "month": 1, "date": 10, "hours": 12, "utc": true}]},
    "axis": {"values": [{"year":2020,"month":1,"date":2,"utc":true},{"year":2020,"month":2,"date":3,"utc":true},{"year":2020,"month":4,"date":1,"utc":true},{"year":2020,"month":5,"date":1,"utc":true},{"year":2020,"month":6,"date":2,"utc":true},{"year":2020,"month":7,"date":1,"utc":true},{"year":2020,"month":8,"date":3,"utc":true},{"year":2020,"month":9,"date":1,"utc":true},{"year":2020,"month":10,"date":1,"utc":true},{"year":2020,"month":11,"date":2,"utc":true},{"year":2020,"month":12,"date":2,"utc":true},{"year":2021,"month":1,"date":4,"utc":true}],
      "labels": false, "ticks": false, "title": null, "grid": true, "minExtent": 0, "maxExtent": 0,
      "gridColor": {"condition": {"test": "utcyear(datum.value)==2020 && utcmonth(datum.value)==0", "value": "rgba(0,0,0,0)"}, "value": "#333333"}}}},
  "layer": [
   {
    "encoding": {"y": {"field": "v", "type": "quantitative", "scale": {"domain": [-5.32, 105.64], "nice": false, "zero": false}, "axis": null}},
    "layer": [
     {"data": {"name": "osc"}, "mark": {"type": "area", "interpolate": "monotone", "fill": "#ffffff", "fillOpacity": 0.32, "line": {"stroke": "#a5a5a5", "strokeWidth": 1, "interpolate": "monotone"}}},
     {"data": {"values": [{"d": "2021-01-10T12:00:00Z", "v": 7.98, "t": "7.98"}]}, "mark": {"type": "point", "shape": "M0,-0.359H2V0.359H0Z", "size": 1521, "filled": true, "fill": "#ffffff", "opacity": 1, "strokeWidth": 0}},
     {"data": {"values": [{"d": "2021-01-10T12:00:00Z", "v": 7.98, "t": "7.98"}]}, "mark": {"type": "text", "align": "left", "dx": 9, "fontSize": 12, "color": "#000000"}, "encoding": {"text": {"field": "t"}}}
    ]
   },
   {
    "layer": [
     {"data": {"name": "trail"}, "mark": {"type": "line", "strokeWidth": 5, "strokeJoin": "round"},
      "encoding": {"y": {"field": "v", "type": "quantitative",
        "scale": {"domain": [17506, 31250], "nice": false, "zero": false},
        "axis": {"orient": "right", "values": [18000, 20000, 22000, 24000, 26000, 28000, 30000], "labelExpr": "datum.value >= 28000 ? '' : format(datum.value, '.2f')", "grid": true, "ticks": true, "tickSize": 4, "labelPadding": 5, "labelFontSize": 11.5, "minExtent": 58, "maxExtent": 58,
          "title": "USD", "titleAngle": 0, "titleX": 31, "titleY": 15, "titleAlign": "center", "titleBaseline": "middle", "titleFontSize": 11, "titleFontWeight": "normal", "titleColor": "#d0d0d0"}},
       "detail": {"field": "s", "type": "nominal"},
       "color": {"field": "k", "type": "nominal", "scale": {"domain": ["dr", "mr", "lg", "bg", "tl", "tb", "tr"], "range": ["#a50000", "#b54040", "#4cbb4c", "#00a000", "#42b4e6", "#0000ff", "#ff0000"]}, "legend": null}}},
     {"data": {"name": "candles"}, "mark": {"type": "rule", "color": "#bdbdbd", "strokeWidth": 1},
      "encoding": {"y": {"field": "l", "type": "quantitative"}, "y2": {"field": "h"}}},
     {"data": {"name": "candles"}, "mark": {"type": "bar", "width": 2.6, "strokeWidth": 0.7},
      "encoding": {"y": {"field": "o", "type": "quantitative"}, "y2": {"field": "c"},
       "fill": {"condition": {"test": "datum.c >= datum.o", "value": "#7ddc7d"}, "value": "#ffae9a"},
       "stroke": {"condition": {"test": "datum.c >= datum.o", "value": "#33c433"}, "value": "#ff5030"}}},
     {"data": {"name": "ma200"}, "mark": {"type": "line", "color": "#ff0000", "strokeWidth": 2, "interpolate": "monotone"}, "encoding": {"y": {"field": "v", "type": "quantitative"}}},
     {"data": {"name": "ma50"}, "mark": {"type": "line", "color": "#0000ff", "strokeWidth": 2, "interpolate": "monotone"}, "encoding": {"y": {"field": "v", "type": "quantitative"}}},
     {"data": {"name": "tri"}, "mark": {"type": "point", "shape": "triangle-down", "filled": true, "fill": "#f5c200", "stroke": "#c99000", "strokeWidth": 0.5, "size": 40, "opacity": 1}, "encoding": {"y": {"field": "v", "type": "quantitative"}}},
     {"mark": {"type": "rule", "color": "#4caf50", "strokeDash": [1, 3], "strokeWidth": 1}, "encoding": {"y": {"datum": 30606, "type": "quantitative"}}},
     {"data": {"values": [{"d": "2021-01-10T12:00:00Z", "v": 29835.95, "t": "29835.95", "k": "tl"}, {"d": "2021-01-10T12:00:00Z", "v": 29513.43, "t": "29513.43", "k": "tb"}, {"d": "2021-01-10T12:00:00Z", "v": 27795.79, "t": "27795.79", "k": "tr"}]},
      "mark": {"type": "point", "shape": "M0,-0.258H2V0.258H0Z", "size": 3844, "filled": true, "opacity": 1, "strokeWidth": 0},
      "encoding": {"y": {"field": "v", "type": "quantitative"}, "color": {"field": "k", "type": "nominal", "legend": null}}},
     {"data": {"values": [{"d": "2021-01-10T12:00:00Z", "v": 29835.95, "t": "29835.95", "k": "tl"}, {"d": "2021-01-10T12:00:00Z", "v": 29513.43, "t": "29513.43", "k": "tb"}, {"d": "2021-01-10T12:00:00Z", "v": 27795.79, "t": "27795.79", "k": "tr"}]},
      "mark": {"type": "text", "align": "left", "dx": 9, "fontSize": 12, "fontWeight": "bold"},
      "encoding": {"y": {"field": "v", "type": "quantitative"}, "text": {"field": "t"}, "color": {"condition": {"test": "datum.k == 'tl'", "value": "#0a1a2a"}, "value": "#ffffff"}}}
    ]
   }
  ],
  "resolve": {"scale": {"y": "independent"}, "axis": {"y": "independent"}}
 },
 {
  "width": 942, "height": 56,
  "title": {"text": "Supertrend V1.0 - Buy or Sell Signal", "offset": -26, "dx": 10, "fontSize": 12.5, "color": "#c8c8c8"},
  "encoding": {"x": {"field": "d", "type": "temporal",
    "scale": {"type": "utc", "nice": false, "domain": [{"year": 2020, "month": 1, "date": 1, "hours": 19, "utc": true}, {"year": 2021, "month": 1, "date": 10, "hours": 12, "utc": true}]},
    "axis": {"values": [{"year":2020,"month":1,"date":2,"utc":true},{"year":2020,"month":2,"date":3,"utc":true},{"year":2020,"month":4,"date":1,"utc":true},{"year":2020,"month":5,"date":1,"utc":true},{"year":2020,"month":6,"date":2,"utc":true},{"year":2020,"month":7,"date":1,"utc":true},{"year":2020,"month":8,"date":3,"utc":true},{"year":2020,"month":9,"date":1,"utc":true},{"year":2020,"month":10,"date":1,"utc":true},{"year":2020,"month":11,"date":2,"utc":true},{"year":2020,"month":12,"date":2,"utc":true},{"year":2021,"month":1,"date":4,"utc":true}],
      "labels": false, "ticks": false, "title": null, "grid": true, "minExtent": 0, "maxExtent": 0,
      "gridColor": {"condition": {"test": "utcyear(datum.value)==2020 && utcmonth(datum.value)==0", "value": "rgba(0,0,0,0)"}, "value": "#333333"}}}},
  "layer": [
   {"data": {"name": "st"}, "mark": {"type": "line", "strokeWidth": 1.6},
    "encoding": {"y": {"field": "v", "type": "quantitative", "scale": {"domain": [17206, 31431], "nice": false, "zero": false},
      "axis": {"orient": "left", "values": [20000], "format": "d", "grid": true, "ticks": true, "tickSize": 4, "labelPadding": 2, "labelFontSize": 11.5, "minExtent": 50, "maxExtent": 50,
        "title": "USD", "titleAngle": 0, "titleX": -25, "titleY": 17, "titleAlign": "center", "titleBaseline": "middle", "titleFontSize": 11, "titleFontWeight": "normal", "titleColor": "#d0d0d0"}},
     "detail": {"field": "s", "type": "nominal"},
     "color": {"field": "k", "type": "nominal", "scale": {"domain": ["r", "g", "sr", "sg", "tag"], "range": ["#d81b4a", "#1e9e1e", "#ff1744", "#1ed41e", "#22c322"]}, "legend": null}}},
   {"data": {"name": "sts"}, "mark": {"type": "rule", "strokeWidth": 1},
    "encoding": {"y": {"field": "v", "type": "quantitative"}, "y2": {"field": "e"}, "color": {"field": "k", "type": "nominal", "legend": null}}},
   {"data": {"values": [{"d": "2020-01-01T19:00:00Z", "v": 29653, "k": "tag"}]}, "mark": {"type": "point", "shape": "M0,-0.326H-2V0.326H0Z", "size": 1849, "filled": true, "opacity": 1, "strokeWidth": 0},
    "encoding": {"y": {"field": "v", "type": "quantitative"}, "color": {"field": "k", "type": "nominal", "legend": null}}},
   {"data": {"values": [{"d": "2020-01-01T19:00:00Z", "v": 29653, "t": "29653 -"}]}, "mark": {"type": "text", "align": "right", "dx": -2, "fontSize": 11.5, "fontWeight": "bold", "color": "#ffffff"},
    "encoding": {"y": {"field": "v", "type": "quantitative"}, "text": {"field": "t"}}}
  ]
 },
 {
  "width": 942, "height": 78,
  "title": {"text": "TRIX", "offset": -26, "dx": 10, "fontSize": 12.5, "color": "#c8c8c8"},
  "encoding": {"x": {"field": "d", "type": "temporal",
    "scale": {"type": "utc", "nice": false, "domain": [{"year": 2020, "month": 1, "date": 1, "hours": 19, "utc": true}, {"year": 2021, "month": 1, "date": 10, "hours": 12, "utc": true}]},
    "axis": {"values": [{"year":2020,"month":1,"date":2,"utc":true},{"year":2020,"month":2,"date":3,"utc":true},{"year":2020,"month":4,"date":1,"utc":true},{"year":2020,"month":5,"date":1,"utc":true},{"year":2020,"month":6,"date":2,"utc":true},{"year":2020,"month":7,"date":1,"utc":true},{"year":2020,"month":8,"date":3,"utc":true},{"year":2020,"month":9,"date":1,"utc":true},{"year":2020,"month":10,"date":1,"utc":true},{"year":2020,"month":11,"date":2,"utc":true},{"year":2020,"month":12,"date":2,"utc":true},{"year":2021,"month":1,"date":4,"utc":true}],
      "labelExpr": "utcyear(datum.value) == 2021 ? '2021' : (utcmonth(datum.value) == 0 ? '20' : ['Gen','Feb','Mar','Apr','Maggio','2','Lug','Ago','Set','Ott','Nov','2'][utcmonth(datum.value)])",
      "labelAlign": {"condition": {"test": "utcyear(datum.value)==2020 && utcmonth(datum.value)==0", "value": "left"}, "value": "center"},
      "labels": true, "ticks": false, "labelPadding": 9, "labelFontSize": 12, "labelColor": "#c8c8c8", "title": null, "grid": true,
      "gridColor": {"condition": {"test": "utcyear(datum.value)==2020 && utcmonth(datum.value)==0", "value": "rgba(0,0,0,0)"}, "value": "#333333"}}}},
  "layer": [
   {"mark": {"type": "rule", "color": "#8c8c8c", "strokeDash": [4, 3], "strokeWidth": 1}, "encoding": {"y": {"datum": 0, "type": "quantitative", "scale": {"domain": [-103.8, 43.4], "nice": false, "zero": false},
      "axis": {"orient": "left", "values": [-100, 0], "format": ".2f", "grid": false, "ticks": true, "tickSize": 4, "labelPadding": 2, "labelFontSize": 11.5, "minExtent": 50, "maxExtent": 50, "title": null}}}},
   {"data": {"name": "trix"}, "mark": {"type": "line", "color": "#a9e4ee", "strokeWidth": 2, "interpolate": "monotone"}, "encoding": {"y": {"field": "v", "type": "quantitative"}}},
   {"data": {"values": [{"d": "2020-01-01T19:00:00Z", "v": 15.62}]}, "mark": {"type": "point", "shape": "M0,-0.326H-2V0.326H0Z", "size": 1849, "filled": true, "fill": "#b2ebf2", "opacity": 1, "strokeWidth": 0},
    "encoding": {"y": {"field": "v", "type": "quantitative"}}},
   {"data": {"values": [{"d": "2020-01-01T19:00:00Z", "v": 15.62, "t": "15.62 -"}]}, "mark": {"type": "text", "align": "right", "dx": -2, "fontSize": 11.5, "color": "#131722"},
    "encoding": {"y": {"field": "v", "type": "quantitative"}, "text": {"field": "t"}}}
  ]
 }
]
}
